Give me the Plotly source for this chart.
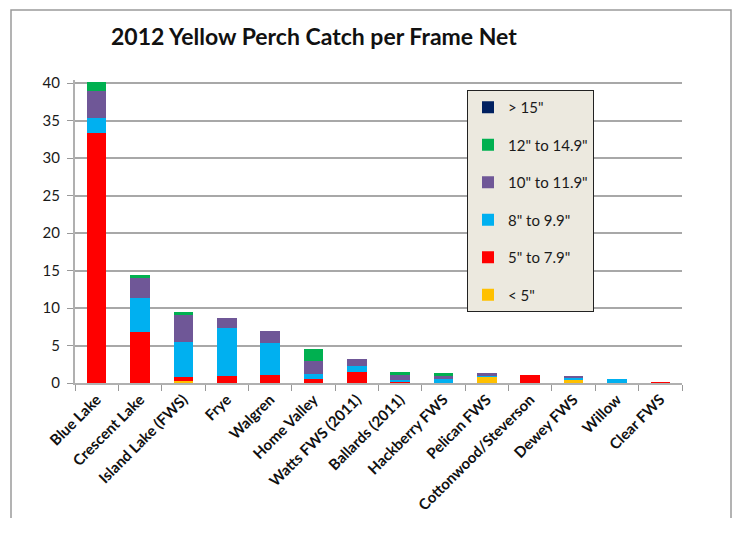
import plotly.graph_objects as go

lakes = ["Blue Lake", "Crescent Lake", "Island Lake (FWS)", "Frye", "Walgren",
         "Home Valley", "Watts FWS (2011)", "Ballards (2011)", "Hackberry FWS",
         "Pelican FWS", "Cottonwood/Steverson", "Dewey FWS", "Willow", "Clear FWS"]

under5 = [0, 0, 0.3, 0, 0, 0, 0, 0, 0, 0.8, 0, 0.5, 0, 0]
s5_79 = [33.4, 6.8, 0.5, 1.0, 1.1, 0.5, 1.5, 0.1, 0, 0, 1.1, 0, 0, 0.1]
s8_99 = [2.0, 4.6, 4.7, 6.3, 4.3, 0.7, 0.8, 0.3, 0.6, 0.1, 0, 0.2, 0.5, 0]
s10_119 = [3.6, 2.6, 3.6, 1.4, 1.6, 1.8, 0.9, 0.7, 0.3, 0.4, 0, 0.3, 0, 0]
s12_149 = [1.1, 0.4, 0.4, 0, 0, 1.5, 0, 0.4, 0.4, 0, 0, 0, 0, 0]
over15 = [0] * 14

series_names = ['< 5"', '5" to 7.9"', '8" to 9.9"', '10" to 11.9"', '12" to 14.9"', '> 15"']
series_values = [under5, s5_79, s8_99, s10_119, s12_149, over15]
series_colors = ["#FFC000", "#FF0000", "#00B0F0", "#6F5797", "#00B050", "#002060"]

fig = go.Figure()
n = len(series_names)
for i, (name, vals, col) in enumerate(zip(series_names, series_values, series_colors)):
    fig.add_trace(go.Bar(
        x=lakes, y=vals, name=name, marker=dict(color=col, line=dict(width=0)),
        legendgroup=f"g{i}", legendrank=n - i,
    ))

# page body has an 8px margin; design in window pixels and convert
OFF = 8
W, H = 741 - 2 * OFF, 534 - 3 * OFF
L, T = 75 - OFF, 80 - OFF
ph = 303
B = H - T - ph
pw = 682 - 75
R = W - L - pw

def px(x):
    return (x - OFF - L) / pw

def py(y):
    return (H - B - (y - OFF)) / ph

fig.update_layout(
    width=W, height=H,
    barmode="stack", bargap=0.55,
    paper_bgcolor="white", plot_bgcolor="white",
    margin=dict(l=L, r=R, t=T, b=B, autoexpand=False),
    font=dict(family="Lato", color="#1a1a1a"),
    title=dict(text="<b>2012 Yellow Perch Catch per Frame Net</b>",
               font=dict(family="Lato", size=23, color="#111"),
               x=(111 - OFF) / W, xanchor="left", xref="container",
               y=1 - (37 - OFF) / H, yanchor="middle", yref="container"),
    legend=dict(
        x=px(467), y=py(90), xanchor="left", yanchor="top",
        bgcolor="#ECE9DF", bordercolor="#222", borderwidth=1,
        font=dict(family="Lato", size=15, color="#1a1a1a"),
        traceorder="grouped", tracegroupgap=15,
        itemwidth=30,
    ),
    xaxis=dict(
        tickangle=-45, tickfont=dict(family="Lato", size=15, weight="bold", color="#111"),
        ticks="outside", tickson="boundaries", ticklen=6, tickcolor="#999",
        showline=True, linecolor="#b0b0b0", linewidth=2, showgrid=False,
        automargin=False,
    ),
    yaxis=dict(
        range=[0, 40.4], tickvals=[0, 5, 10, 15, 20, 25, 30, 35, 40],
        tickfont=dict(family="Lato", size=15, color="#1a1a1a"),
        showgrid=True, gridcolor="#A8A8A8", gridwidth=2,
        ticks="outside", ticklen=6, tickcolor="#999", ticklabelstandoff=4,
        showline=True, linecolor="#b0b0b0", linewidth=2, zeroline=False,
        automargin=False,
    ),
    shapes=[dict(type="rect", xref="paper", yref="paper",
                 x0=px(11), x1=px(731), y0=py(545), y1=py(10),
                 line=dict(color="#9a9a9a", width=1.5), fillcolor="rgba(0,0,0,0)")],
)

fig.write_html("out.html")
